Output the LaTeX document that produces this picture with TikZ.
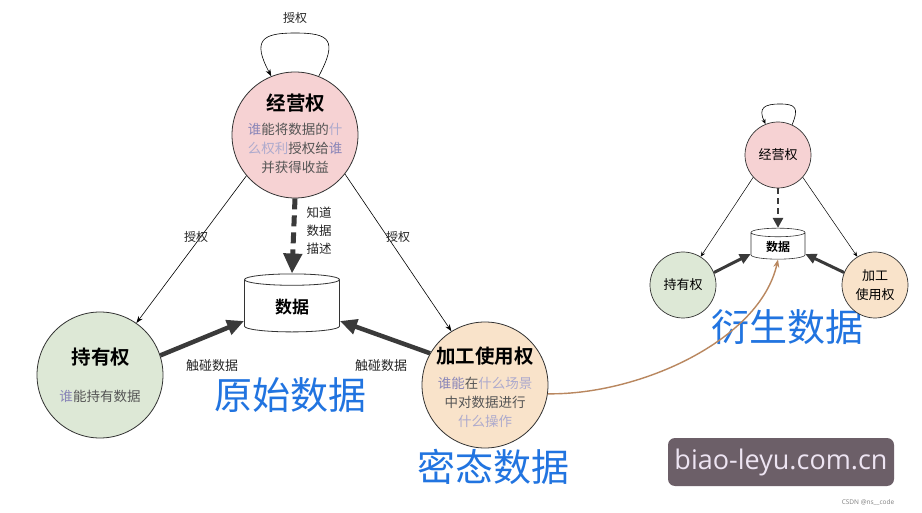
\documentclass[tikz,border=0pt]{standalone}
\usepackage{fontspec}
\setmainfont{Noto Sans CJK SC}
\newfontfamily\cjkb[BoldFont={Noto Sans CJK SC Bold}]{Noto Sans CJK SC}
\newfontfamily\wmfont{Open Sans}
\usetikzlibrary{shapes.geometric,arrows.meta}
\definecolor{pinkfill}{HTML}{F6D2D3}
\definecolor{greenfill}{HTML}{DDE8D6}
\definecolor{peachfill}{HTML}{F9E3CA}
\definecolor{bigblue}{HTML}{2174E0}
\definecolor{desc}{HTML}{555555}
\definecolor{hi}{HTML}{8A86B8}
\definecolor{brown}{HTML}{B9875F}
\definecolor{wm}{HTML}{6C5F68}
\definecolor{wmtext}{HTML}{EDE4F2}
\definecolor{arr}{HTML}{3A3A3A}
\tikzset{
  bigcirc/.style={circle,draw=black!80,line width=0.8pt,minimum size=126pt,inner sep=0pt,align=center},
  smallcirc/.style={circle,draw=black!80,line width=0.7pt,minimum size=66pt,inner sep=0pt,align=center,font=\fontsize{13}{15}\selectfont},
  db/.style={cylinder,shape border rotate=90,aspect=0.28,draw=black!80,line width=0.8pt,fill=white},
  thin/.style={draw=black,line width=0.6pt,-{Stealth[length=7pt,width=5pt]}},
  thick/.style={draw=arr,line width=4.5pt,-{Triangle[length=17pt,width=15pt]}},
  thicks/.style={draw=arr,line width=3pt,-{Triangle[length=11pt,width=10pt]}},
  dashthick/.style={draw=arr,line width=5pt,dash pattern=on 11pt off 6pt,-{Triangle[length=20pt,width=18pt]}},
  lbl/.style={font=\fontsize{12}{13}\selectfont,text=black!85},
  ttl/.style={font=\cjkb\bfseries\fontsize{19.5}{21}\selectfont},
  dsc/.style={align=center,font=\fontsize{13.5}{19}\selectfont,text=desc},
  big/.style={font=\fontsize{38}{42}\selectfont,text=bigblue}
}
\begin{document}
\begin{tikzpicture}[x=1pt,y=-1pt]
\useasboundingbox[fill=white] (0,0) rectangle (922,513);

% big nodes
\node[bigcirc,fill=pinkfill] (jy) at (295,135) {};
\node[ttl] (jyt) at (296,103) {经营权};
\node[dsc] (jyd) at (295,148)
 {\textcolor{hi}{谁}能将数据的\textcolor{hi!70}{什}\\\textcolor{hi!70}{么权利}授权给\textcolor{hi}{谁}\\并获得收益};

\node[bigcirc,fill=greenfill] (cy) at (100,375) {};
\node[ttl] (cyt) at (101,357) {持有权};
\node[dsc] (cyd) at (100,396) {\textcolor{hi}{谁}能持有数据};

\node[bigcirc,fill=peachfill] (jg) at (485,385) {};
\node[ttl] (jgt) at (485,356) {加工使用权};
\node[dsc] (jgd) at (485,402)
 {\textcolor{hi}{谁能}在\textcolor{hi!70}{什么场景}\\中对数据进行\\\textcolor{hi!70}{什么操作}};

\node[db,minimum width=95pt,minimum height=58pt,font=\cjkb\bfseries\fontsize{17}{18}\selectfont] (sj) at (292,307) {\raisebox{-5pt}{数据}};

% self loop
\draw[thin] (jy.68) .. controls (338,40) and (330,33) .. (295,33) .. controls (262,33) and (252,40) .. (jy.112);
\node[lbl] (sq0) at (295,18) {授权};

% authorisation arrows
\draw[thin] (jy.220) -- (cy.55);
\draw[thin] (jy.322) -- (jg.122);
\node[lbl] (sq1) at (196,237) {授权};
\node[lbl] (sq2) at (398,237) {授权};

% dashed
\draw[dashthick] (jy.south) -- (sj.top);
\node[lbl,align=center,font=\fontsize{12.5}{18}\selectfont] (zd) at (319,231) {知道\\数据\\描述};

% touch arrows
\draw[thick] (cy.18) -- ([yshift=-14pt]sj.west);
\draw[thick] (jg.150) -- ([yshift=-14pt]sj.east);
\node[lbl,font=\fontsize{13}{14}\selectfont] (pz1) at (212,366) {触碰数据};
\node[lbl,font=\fontsize{13}{14}\selectfont] (pz2) at (381,366) {触碰数据};

% big labels
\node[big] (ys) at (290,395) {原始数据};
\node[big] (mt) at (493,467) {密态数据};
\node[big] (ysh) at (787,327) {衍生数据};

% small diagram
\node[smallcirc,fill=pinkfill] (sjy) at (778,155) {经营权};
\node[smallcirc,fill=greenfill] (scy) at (683,285) {持有权};
\node[smallcirc,fill=peachfill,font=\fontsize{13}{19}\selectfont] (sjg) at (875,285) {加工\\使用权};
\node[db,minimum width=54pt,minimum height=31pt,line width=0.6pt,font=\cjkb\bfseries\fontsize{12}{13}\selectfont] (ssj) at (778,247) {\raisebox{-2pt}{数据}};

\draw[draw=black,line width=0.6pt,-{Stealth[length=5pt,width=4pt]}] (sjy.65) .. controls (799,108) and (796,104) .. (780,104) .. controls (764,104) and (758,108) .. (sjy.112);
\draw[draw=black,line width=0.5pt,-{Stealth[length=5pt,width=4pt]}] (sjy.222) -- (scy.58);
\draw[draw=black,line width=0.5pt,-{Stealth[length=5pt,width=4pt]}] (sjy.318) -- (sjg.122);
\draw[draw=arr,line width=2.8pt,dash pattern=on 6pt off 4pt,-{Triangle[length=10pt,width=10pt]}] (sjy.south) -- (ssj.top);
\draw[thicks] (scy.22) -- ([yshift=-7pt]ssj.west);
\draw[thicks] (sjg.158) -- ([yshift=-7pt]ssj.east);

% brown curve
\draw[draw=brown,line width=1.4pt,-{Stealth[length=8pt,width=6pt]}] (jg.-8) .. controls (640,395) and (760,340) .. (ssj.bottom);

% watermark
\node[fill=wm,rounded corners=7pt,minimum width=226pt,minimum height=48pt,text=wmtext,font=\wmfont\fontsize{27}{30}\selectfont] (wmk) at (781,462) {biao-leyu.com.cn};
\node[font=\wmfont\fontsize{6.5}{8}\selectfont,text=black!50] (csdn) at (868,503) {CSDN @ns\_\_code};
\end{tikzpicture}
\end{document}
